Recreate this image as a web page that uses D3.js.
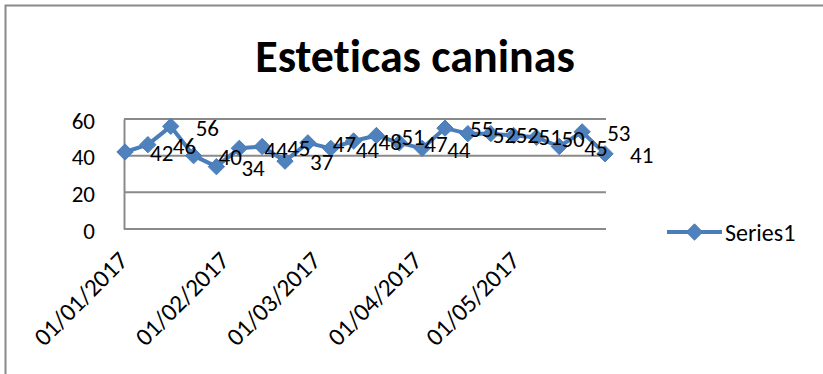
<!DOCTYPE html>
<html>
<head>
<meta charset="utf-8">
<script src="https://cdn.jsdelivr.net/npm/d3@7"></script>
<style>
  html, body { margin: 0; padding: 0; background: #fff; overflow: hidden; }
  svg { display: block; font-family: Carlito, Calibri, Lato, sans-serif; font-variant-ligatures: none; }
</style>
</head>
<body>
<svg id="chart" width="823" height="374"></svg>
<script>
// Weekly readings, one per week starting 01/01/2017
const dates = ["2017-01-01","2017-01-08","2017-01-15","2017-01-22","2017-01-29",
  "2017-02-05","2017-02-12","2017-02-19","2017-02-26","2017-03-05","2017-03-12",
  "2017-03-19","2017-03-26","2017-04-02","2017-04-09","2017-04-16","2017-04-23",
  "2017-04-30","2017-05-07","2017-05-14","2017-05-21","2017-05-28"];
const values = [42, 46, 56, 40, 34, 44, 45, 37, 47, 44, 48, 51, 47, 44, 55, 52, 52, 51, 50, 45, 53, 41];
const yTicks = [0, 20, 40, 60];
const xTicks = ["2017-01-01","2017-02-01","2017-03-01","2017-04-01","2017-05-01"];
const seriesName = "Series1";
const title = "Esteticas caninas";

const parse = d3.timeParse("%Y-%m-%d");
const fmt = d3.timeFormat("%d/%m/%Y");
const data = dates.map((d, i) => ({ date: parse(d), value: values[i] }));

const svg = d3.select("#chart");
const blue = "#4A7EBB", blueFill = "#4F81BD", grid = "#8a8a8a";
const fs = 23;

// chart area border (left / top edges)
svg.append("rect")
  .attr("x", 5.5).attr("y", 5.5).attr("width", 830).attr("height", 380)
  .attr("fill", "none").attr("stroke", "#8a8a8a").attr("stroke-width", 2);

const x = d3.scaleTime()
  .domain(d3.extent(data, d => d.date))
  .range([125, 605]);
const y = d3.scaleLinear().domain([0, 60]).range([229, 119]);

// title
svg.append("text")
  .attr("x", 415).attr("y", 72)
  .attr("text-anchor", "middle")
  .attr("font-size", 46).attr("font-weight", "bold")
  .text(title);

// horizontal gridlines + y axis
const yAxis = d3.axisLeft(y).tickValues(yTicks).tickSize(0).tickPadding(0);
const gy = svg.append("g").attr("transform", "translate(124,0)").call(yAxis);
gy.select(".domain").attr("stroke", grid).attr("stroke-width", 2);
gy.selectAll(".tick text")
  .attr("x", -29).attr("dy", "0.4em")
  .attr("font-size", fs).attr("fill", "#000")
  .attr("font-family", "Carlito, Calibri, Lato, sans-serif");
svg.append("g").selectAll("line").data(yTicks).join("line")
  .attr("x1", 124).attr("x2", 606)
  .attr("y1", d => y(d)).attr("y2", d => y(d))
  .attr("stroke", grid).attr("stroke-width", 2);

// x axis with monthly date labels
const xAxis = d3.axisBottom(x).tickValues(xTicks.map(parse)).tickFormat(fmt).tickSize(0);
const gx = svg.append("g").attr("transform", "translate(0,229)").call(xAxis);
gx.select(".domain").remove();
gx.selectAll(".tick text")
  .attr("font-size", 25).attr("fill", "#000")
  .attr("font-family", "Carlito, Calibri, Lato, sans-serif")
  .attr("text-anchor", "end")
  .attr("transform", "translate(4,33) rotate(-45)")
  .attr("y", 0).attr("dy", 0);

// series line
const line = d3.line().x(d => x(d.date)).y(d => y(d.value));
svg.append("path").datum(data)
  .attr("d", line).attr("fill", "none")
  .attr("stroke", blue).attr("stroke-width", 4).attr("stroke-linejoin", "round");

// diamond markers
const diamond = d3.symbol().type(d3.symbolDiamond2).size(170);
svg.append("g").selectAll("path").data(data).join("path")
  .attr("d", diamond)
  .attr("transform", d => `translate(${x(d.date)},${y(d.value)})`)
  .attr("fill", blueFill).attr("stroke", blue).attr("stroke-width", 1);

// data labels to the right of each point
svg.append("g").selectAll("text").data(data).join("text")
  .attr("x", d => x(d.date) + 25)
  .attr("y", d => y(d.value) + 1)
  .attr("dy", "0.36em")
  .attr("font-size", fs).attr("fill", "#000")
  .text(d => d.value);

// legend
const lg = svg.append("g");
lg.append("line").attr("x1", 667).attr("x2", 722).attr("y1", 232).attr("y2", 232)
  .attr("stroke", blue).attr("stroke-width", 4);
lg.append("path").attr("d", diamond)
  .attr("transform", "translate(694.5,232)")
  .attr("fill", blueFill).attr("stroke", blue).attr("stroke-width", 1);
lg.append("text").attr("x", 725).attr("y", 232).attr("dy", "0.36em")
  .attr("font-size", 24).attr("fill", "#000").text(seriesName);
</script>
</body>
</html>
